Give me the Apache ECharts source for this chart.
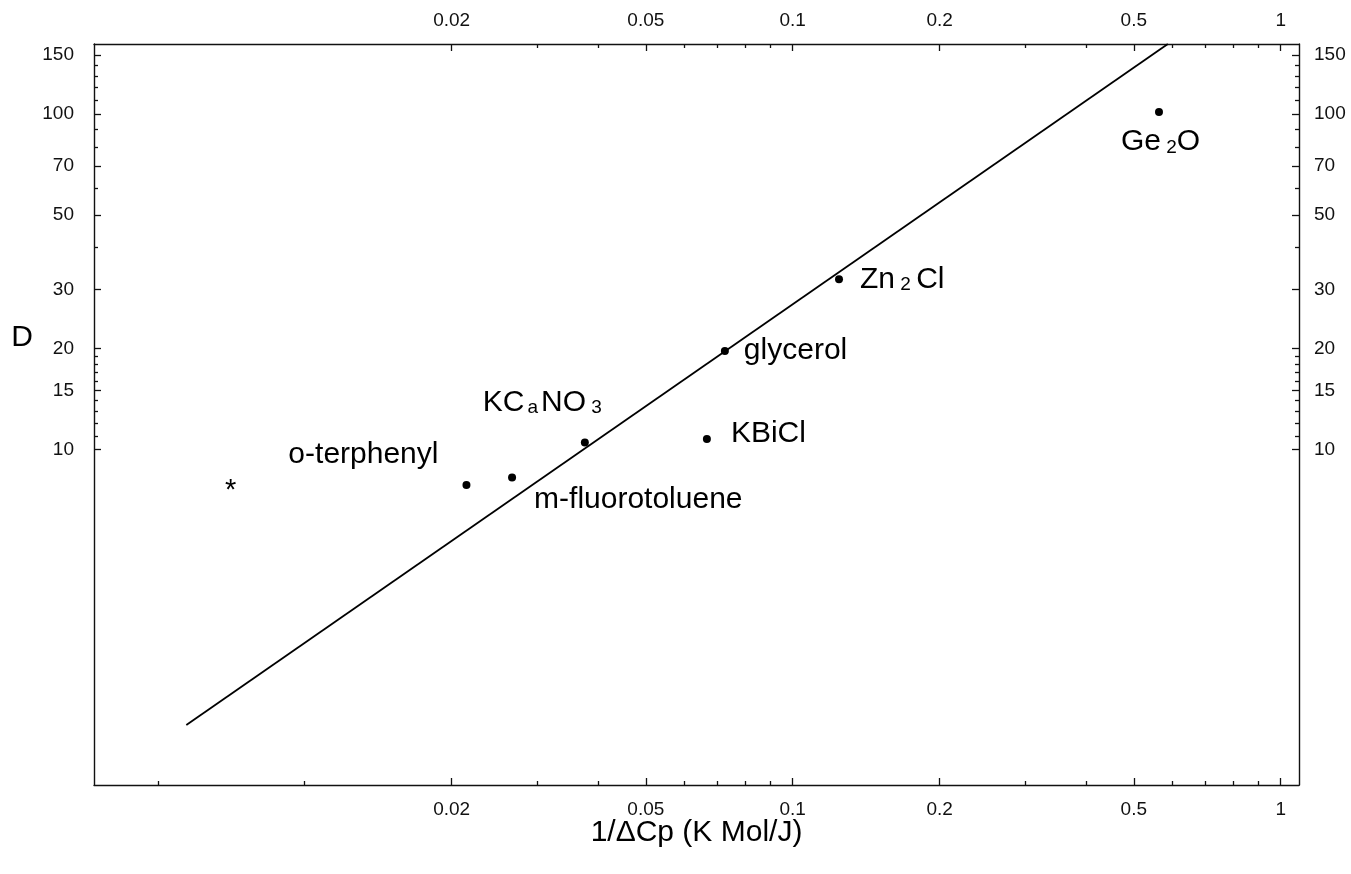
<!DOCTYPE html>
<html><head><meta charset="utf-8">
<script src="https://cdn.jsdelivr.net/npm/echarts@6/dist/echarts.min.js"></script>
<style>html,body{margin:0;padding:0;background:#fff}#c{width:1351px;height:874px}</style>
</head><body><div id="c"></div>
<script>
// ---- data ----
const substances = ['o-terphenyl','m-fluorotoluene','KCaNO3','KBiCl','glycerol','Zn2Cl','Ge2O'];
const invDeltaCp = [0.02145, 0.0266, 0.0375, 0.0667, 0.0726, 0.1244, 0.563];
const fragilityD = [7.84, 8.26, 10.5, 10.75, 19.7, 32.2, 101.6];
const starX = [0.00705];
const starD = [7.72];
const fitX = [0.00572, 0.587];
const fitD = [1.51, 162];
const xMajorTicks = [0.02, 0.05, 0.1, 0.2, 0.5, 1];
const xTickLabels = ['0.02', '0.05', '0.1', '0.2', '0.5', '1'];
const xMinorBottom = [0.005, 0.01, 0.03, 0.04, 0.06, 0.07, 0.08, 0.09, 0.3, 0.4, 0.6, 0.7, 0.8, 0.9];
const xMinorTop = [0.03, 0.04, 0.06, 0.07, 0.08, 0.09, 0.3, 0.4, 0.6, 0.7, 0.8, 0.9];
const yMajorTicks = [10, 15, 20, 30, 50, 70, 100, 150];
const yTickLabels = ['10', '15', '20', '30', '50', '70', '100', '150'];
const yMinorTicks = [11, 12, 13, 14, 16, 17, 18, 19, 40, 60, 80, 90, 110, 120, 130, 140];
const labelTexts = {
  'o-terphenyl': '{m|o-terphenyl}',
  'm-fluorotoluene': '{m|m-fluorotoluene}',
  'KCaNO3': '{m|KC}{sa|a}{m|NO}{s| 3}',
  'KBiCl': '{m|KBiCl}',
  'glycerol': '{m|glycerol}',
  'Zn2Cl': '{m|Zn}{s| 2 }{m|Cl}',
  'Ge2O': '{m|Ge}{s| 2}{m|O}'
};
const xTitle = '1/\u0394Cp (K Mol/J)';
const yTitle = 'D';

// ---- layout / style ----
const X_MIN = 0.0037, X_MAX = 1.09, Y_MIN = 1, Y_MAX = 162;
const FONT = "'Liberation Sans', Arial, Helvetica, sans-serif";
const INK = '#000000';
const labelPlace = {
  'o-terphenyl': {align: 'right', offset: [-28, -30]},
  'm-fluorotoluene': {align: 'left', offset: [22, 22]},
  'KCaNO3': {align: 'left', offset: [-102, -40]},
  'KBiCl': {align: 'left', offset: [24, -5]},
  'glycerol': {align: 'left', offset: [19, 0]},
  'Zn2Cl': {align: 'left', offset: [21, 0]},
  'Ge2O': {align: 'left', offset: [-38, 30]}
};
const rich = {
  m: {fontSize: 30, fontFamily: FONT, color: INK, verticalAlign: 'bottom', lineHeight: 30},
  s: {fontSize: 19, fontFamily: FONT, color: INK, verticalAlign: 'bottom', lineHeight: 19},
  sa: {fontSize: 19, fontFamily: FONT, color: INK, verticalAlign: 'bottom', lineHeight: 19, padding: [0, 3, 0, 3]}
};

function lookup(vals, labels) {
  return function (v) {
    for (let i = 0; i < vals.length; i++) {
      if (Math.abs(vals[i] - v) / vals[i] < 1e-6) return labels[i];
    }
    return '';
  };
}

function xAxisDef(pos, ticks, major) {
  return {
    type: 'log', logBase: 10, position: pos, min: X_MIN, max: X_MAX,
    gridIndex: 0,
    axisLine: {show: major, onZero: false, lineStyle: {color: '#111', width: 1.4}},
    axisTick: {show: true, inside: true, length: major ? 7 : 4, customValues: ticks,
      lineStyle: {color: '#111', width: 1.3}},
    axisLabel: {show: major, customValues: xMajorTicks, margin: pos === 'bottom' ? 15 : 14,
      formatter: lookup(xMajorTicks, xTickLabels), fontSize: 19, fontFamily: FONT, color: '#111'},
    splitLine: {show: false}, minorTick: {show: false}, minorSplitLine: {show: false},
    nameMoveOverlap: false
  };
}
function yAxisDef(pos, ticks, major) {
  return {
    type: 'log', logBase: 10, position: pos, min: Y_MIN, max: Y_MAX,
    gridIndex: 0,
    axisLine: {show: major, onZero: false, lineStyle: {color: '#111', width: 1.4}},
    axisTick: {show: true, inside: true, length: major ? 7 : 4, customValues: ticks,
      lineStyle: {color: '#111', width: 1.3}},
    axisLabel: {show: major, customValues: yMajorTicks, margin: pos === 'left' ? 20 : 15,
      formatter: lookup(yMajorTicks, yTickLabels), fontSize: 19, fontFamily: FONT, color: '#111'},
    splitLine: {show: false}, minorTick: {show: false}, minorSplitLine: {show: false},
    nameMoveOverlap: false
  };
}

const xAxes = [
  xAxisDef('bottom', xMajorTicks, true),
  xAxisDef('bottom', xMinorBottom, false),
  xAxisDef('top', xMajorTicks, true),
  xAxisDef('top', xMinorTop, false)
];
xAxes[0].name = xTitle;
xAxes[0].nameLocation = 'middle';
xAxes[0].nameGap = 33;
xAxes[0].nameTextStyle = {fontSize: 30, fontFamily: FONT, color: INK};

const yAxes = [
  yAxisDef('left', yMajorTicks, true),
  yAxisDef('left', yMinorTicks, false),
  yAxisDef('right', yMajorTicks, true),
  yAxisDef('right', yMinorTicks, false)
];

const pointData = substances.map((name, i) => ({
  name: name,
  value: [invDeltaCp[i], fragilityD[i]],
  label: {
    show: true, position: 'inside', verticalAlign: 'middle', color: INK, opacity: 1,
    align: labelPlace[name].align, offset: labelPlace[name].offset,
    formatter: labelTexts[name], rich: rich
  }
}));

const chart = echarts.init(document.getElementById('c'), null, {renderer: 'canvas'});
chart.setOption({
  animation: false,
  backgroundColor: '#ffffff',
  textStyle: {fontFamily: FONT, color: INK},
  grid: {left: 94, right: 52, top: 44, bottom: 89, containLabel: false, outerBoundsMode: 'none'},
  xAxis: xAxes,
  yAxis: yAxes,
  graphic: [{
    type: 'text', x: 22, y: 338, silent: true,
    style: {text: yTitle, fontSize: 30, fontFamily: FONT, fill: INK, align: 'center', verticalAlign: 'middle'}
  }],
  series: [
    {
      type: 'line', name: 'fit', xAxisIndex: 0, yAxisIndex: 0,
      data: fitX.map((x, i) => [x, fitD[i]]),
      showSymbol: false, symbol: 'none', clip: true,
      lineStyle: {color: '#000', width: 1.8}, z: 2
    },
    {
      type: 'scatter', name: 'liquids', xAxisIndex: 0, yAxisIndex: 0,
      data: pointData, symbol: 'circle', symbolSize: 8,
      itemStyle: {color: '#000', opacity: 1}, z: 3
    },
    {
      type: 'scatter', name: 'star', xAxisIndex: 0, yAxisIndex: 0,
      data: starX.map((x, i) => [x, starD[i]]), symbol: 'circle', symbolSize: 1,
      itemStyle: {color: 'rgba(0,0,0,0)', opacity: 1},
      label: {show: true, position: 'inside', formatter: '*', fontSize: 29,
        fontFamily: FONT, color: INK, opacity: 1, offset: [0, 4]}, z: 3
    }
  ]
});
</script>
</body></html>
